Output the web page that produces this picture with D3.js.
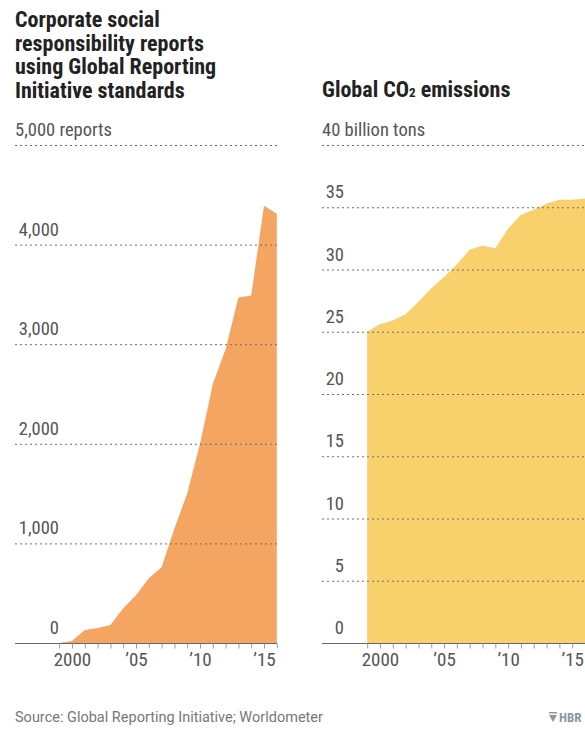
<!DOCTYPE html>
<html><head><meta charset="utf-8">
<script src="https://cdn.jsdelivr.net/npm/d3@7"></script>
<style>
body{margin:0;background:#fff;}
svg text{font-family:"Roboto Condensed","Liberation Sans Narrow","DejaVu Sans Condensed",Roboto,sans-serif;}
</style></head>
<body><svg id="c" width="585" height="730"></svg>
<script>
const years = [1999,2000,2001,2002,2003,2004,2005,2006,2007,2008,2009,2010,2011,2012,2013,2014,2015,2016];
const griReports = [0,20,130,150,180,350,480,650,760,1150,1500,2000,2600,2950,3470,3490,4390,4310];
const co2Emissions = [25.0,25.6,25.9,26.4,27.4,28.5,29.4,30.4,31.6,31.9,31.7,33.3,34.4,34.8,35.3,35.6,35.6,35.7];
const leftTicks = [0,1000,2000,3000,4000,5000];
const rightTicks = [0,5,10,15,20,25,30,35,40];
const xLabelYears = [2000,2005,2010,2015];
const titleLeft = ["Corporate social","responsibility reports","using Global Reporting","Initiative standards"];

const FONT = '"Roboto Condensed","Liberation Sans Narrow","DejaVu Sans Condensed",Roboto,sans-serif';
const svg = d3.select("#c");
const fmtYear = y => y===2000 ? "2000" : "\u2019" + String(y).slice(2);

function panel(opt){
  const g = svg.append("g");
  const x = d3.scaleLinear().domain([2000,2016]).range(opt.xr);
  const y = d3.scaleLinear().domain([0,opt.max]).range([643,145]);
  const area = d3.area().x((d,i)=>x(years[i])).y0(y(0)).y1(d=>y(d));
  g.append("path").datum(opt.data).attr("d",area).attr("fill",opt.color);
  opt.ticks.filter(t=>t>0).forEach(t=>{
    g.append("line").attr("x1",opt.gx[0]).attr("x2",opt.gx[1]).attr("y1",y(t)+0.5).attr("y2",y(t)+0.5)
      .attr("stroke","#6f6f6f").attr("stroke-width",1).attr("stroke-dasharray","2,3");
  });
  opt.ticks.forEach(t=>{
    const top = t===opt.max;
    g.append("text").attr("x", top ? opt.gx[0] : opt.labelEnd).attr("y", y(t)-9)
      .attr("text-anchor", top ? "start" : "end")
      .attr("font-size",18.5).attr("fill","#555")
      .text(top ? opt.topLabel : opt.fmt(t));
  });
  g.append("line").attr("x1",opt.gx[0]).attr("x2",opt.gx[1]).attr("y1",643.5).attr("y2",643.5)
    .attr("stroke","#666").attr("stroke-width",1.2);
  const xa = d3.axisBottom(x).tickValues(years).tickSize(5).tickFormat(d=>xLabelYears.includes(d)?fmtYear(d):"");
  const ax = g.append("g").attr("transform","translate(0,643.5)").call(xa);
  ax.select(".domain").remove();
  ax.selectAll(".tick line").attr("stroke","#999");
  ax.selectAll(".tick text").attr("font-size",19).attr("fill","#555").attr("y",7).attr("dy","0.8em")
    .style("font-family",FONT);
  opt.title.forEach((line,i)=>{
    const t = g.append("text").attr("x",opt.gx[0]).attr("y",opt.titleY + i*23.5)
      .attr("font-size",22).attr("font-weight","bold").attr("fill","#222");
    if (Array.isArray(line)) {
      line.forEach(p=>{ const s=t.append("tspan").text(p.t); if(p.sub){s.attr("font-size",13);} });
    } else t.text(line);
  });
}

panel({xr:[72,276.8], gx:[15,277], max:5000, ticks:leftTicks, data:griReports, color:"#f4a562",
  labelEnd:59, topLabel:"5,000 reports", fmt:d3.format(","), title:titleLeft, titleY:27});
panel({xr:[380,585], gx:[322,585], max:40, ticks:rightTicks, data:co2Emissions, color:"#f8d16c",
  labelEnd:344, topLabel:"40 billion tons", fmt:d=>String(d),
  title:[[{t:"Global CO"},{t:"2",sub:true},{t:" emissions"}]], titleY:97});

svg.append("text").attr("x",15).attr("y",722).attr("font-size",14.5).attr("fill","#777")
  .style("font-family","Roboto, sans-serif")
  .text("Source: Global Reporting Initiative; Worldometer");
const logo = svg.append("g").attr("transform","translate(549,722)");
logo.append("path").attr("d","M0,-10 L8,-10 L8,-8.5 L0,-8.5 Z M0,-7 L8,-7 L4,0 Z").attr("fill","#8a96a3");
logo.append("text").attr("x",10).attr("y",0).attr("font-size",13).attr("font-weight","bold").attr("fill","#8a96a3").text("HBR");
</script></body></html>
